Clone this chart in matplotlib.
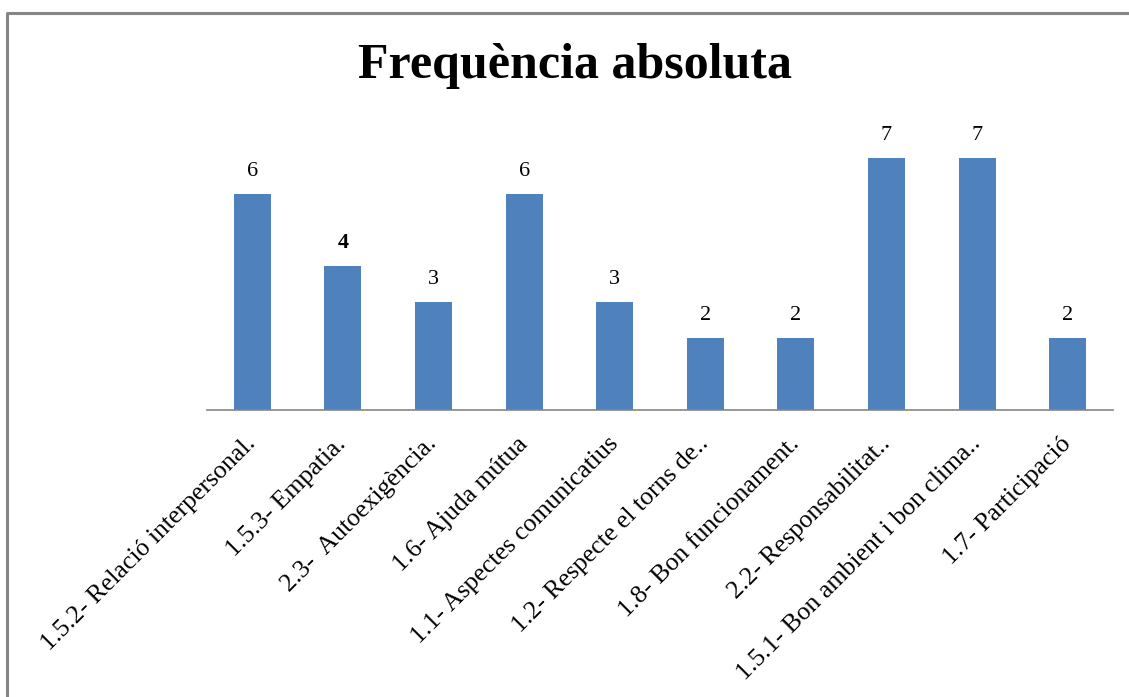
import matplotlib.pyplot as plt
from matplotlib.lines import Line2D

# data
categories = ['1.5.2- Relació interpersonal.', '1.5.3- Empatia.',
              '2.3-  Autoexigència.', '1.6- Ajuda mútua',
              '1.1- Aspectes comunicatius', '1.2- Respecte el torns de..',
              '1.8- Bon funcionament.', '2.2- Responsabilitat..',
              '1.5.1- Bon ambient i bon clima..', '1.7- Participació']
values = [6, 4, 3, 6, 3, 2, 2, 7, 7, 2]
bold_labels = [1]  # the "4" label is drawn bold in the original

W, H = 1129, 697
fig = plt.figure(figsize=(W / 100, H / 100), dpi=100)
ax = fig.add_axes([207 / W, 1 - 410 / H, (1113 - 207) / W, (410 - 122) / H])

x = list(range(len(categories)))
bars = ax.bar(x, values, width=0.41, color='#4F81BD')
ax.set_xlim(-0.5, len(categories) - 0.5)
ax.set_ylim(0, 8)

labels = ax.bar_label(bars, padding=9, fontsize=16, family='Liberation Serif')
for i in bold_labels:
    labels[i].set_fontweight('bold')

ax.set_xticks(x)
ax.set_xticklabels(categories, rotation=45, ha='right', va='center',
                   rotation_mode='anchor', fontsize=18.5,
                   family='Liberation Serif')
ax.tick_params(axis='x', length=0, pad=22)
ax.set_yticks([])
for side in ['left', 'right', 'top']:
    ax.spines[side].set_visible(False)
ax.spines['bottom'].set_color('#868686')
ax.spines['bottom'].set_linewidth(1.2)

fig.text(575 / W, 1 - 78 / H, 'Frequència absoluta', ha='center',
         va='baseline', fontsize=36, fontweight='bold',
         family='Liberation Serif')

# outer chart border (left and top edges visible)
fig.add_artist(Line2D([6.5 / W, 6.5 / W, 1.0], [0.0, 1 - 12.5 / H, 1 - 12.5 / H],
                      transform=fig.transFigure, color='#868686', lw=2.2))

fig.savefig('out.png', dpi=100)
